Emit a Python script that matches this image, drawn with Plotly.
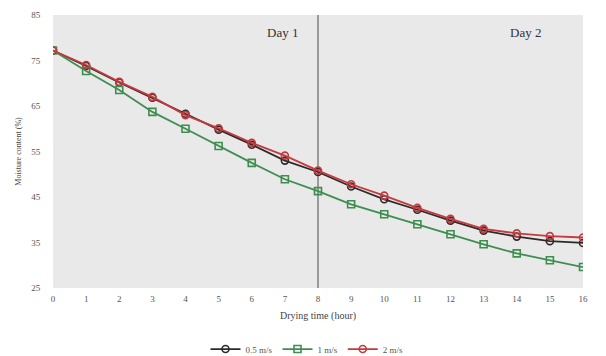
import plotly.graph_objects as go

hours = list(range(17))
v05 = [77.2, 73.8, 70.2, 66.8, 63.3, 59.8, 56.5, 53.0, 50.5, 47.3, 44.5, 42.2, 39.8, 37.6, 36.3, 35.3, 34.9]
v1 = [77.2, 72.7, 68.5, 63.7, 60.0, 56.2, 52.5, 48.9, 46.3, 43.4, 41.2, 39.0, 36.8, 34.6, 32.6, 31.1, 29.6]
v2 = [77.2, 74.0, 70.3, 67.0, 63.0, 60.1, 56.9, 54.1, 50.8, 47.8, 45.3, 42.6, 40.2, 38.0, 37.0, 36.4, 36.1]
names = ["0.5 m/s", "1 m/s", "2 m/s"]
colors = ["#2e2a2a", "#3e8e50", "#c43a3e"]
symbols = ["circle-open", "square-open", "circle-open"]
series = [v05, v1, v2]
ytick_vals = [25, 35, 45, 55, 65, 75, 85]

font = "Liberation Serif, Times New Roman, serif"
fig = go.Figure()
for name, vals, c, s in zip(names, series, colors, symbols):
    fig.add_trace(go.Scatter(
        x=hours, y=vals, name=name, mode="lines+markers",
        line=dict(color=c, width=1.8),
        marker=dict(symbol=s, size=7, color=c, line=dict(width=1.6, color=c)),
    ))

fig.add_shape(type="line", x0=8, x1=8, y0=25, y1=85, xref="x", yref="y",
              line=dict(color="#9a9a9a", width=2), layer="below")
fig.add_annotation(x=7.45, y=81.2, text="Day 1", showarrow=False, xref="x", yref="y",
                   xanchor="right", font=dict(family=font, size=13, color="#333"))
fig.add_annotation(x=14.8, y=81.2, text="Day 2", showarrow=False, xref="x", yref="y",
                   xanchor="right", font=dict(family=font, size=13, color="#333"))

fig.update_layout(
    width=598, height=348,
    margin=dict(l=45, r=23, t=7, b=68, autoexpand=False),
    paper_bgcolor="white", plot_bgcolor="#e9e9e9",
    font=dict(family=font, size=9, color="#555"),
    showlegend=True,
    legend=dict(orientation="h", x=0.5, xanchor="center", xref="container",
                y=0.02, yanchor="middle", yref="container",
                font=dict(family=font, size=9, color="#555"), itemwidth=30),
    xaxis=dict(range=[0, 16], tickmode="array", tickvals=hours, showgrid=False,
               zeroline=False, showline=False, ticks="outside", ticklen=2,
               tickcolor="rgba(0,0,0,0)", automargin=False,
               title=dict(text="Drying time (hour)", font=dict(family=font, size=10, color="#444"), standoff=9)),
    yaxis=dict(range=[25, 85], tickmode="array", tickvals=ytick_vals, showgrid=False,
               zeroline=False, showline=False, ticks="outside", ticklen=10,
               tickcolor="rgba(0,0,0,0)", automargin=False,
               title=dict(text="Moisture content (%)", font=dict(family=font, size=8, color="#444"), standoff=8)),
)
fig.write_html("out.html")
